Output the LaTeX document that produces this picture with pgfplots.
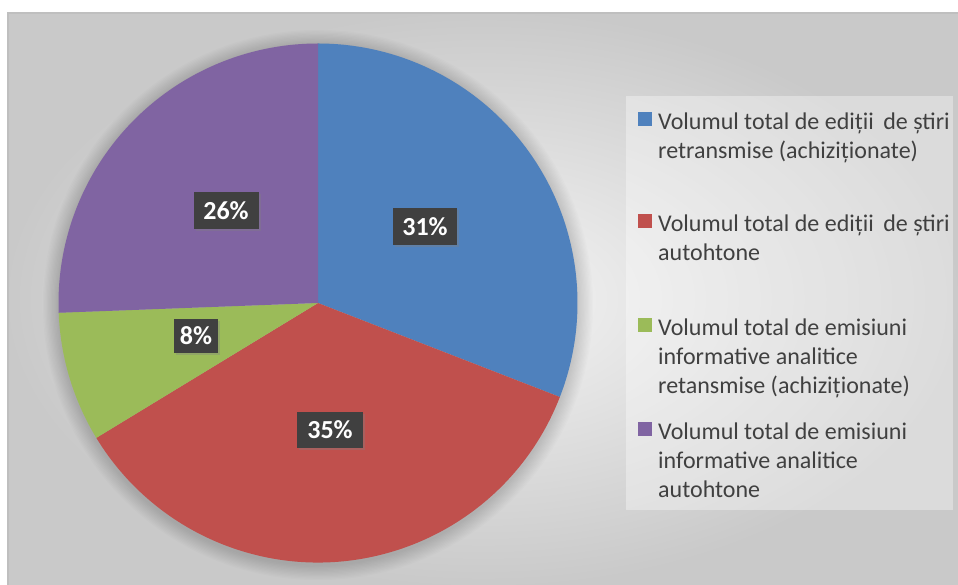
\documentclass[border=0pt]{standalone}
\usepackage{pgfplots}
\pgfplotsset{compat=1.18}
\usepackage{pgfplotstable}
\usepackage{fontspec}
\setmainfont{Carlito}
\usetikzlibrary{shadows}
\definecolor{cBlue}{HTML}{4F81BD}
\definecolor{cRed}{HTML}{C0504D}
\definecolor{cGreen}{HTML}{9BBB59}
\definecolor{cPurple}{HTML}{8064A2}
\definecolor{txt}{HTML}{404040}
\definecolor{lbl}{HTML}{404040}
\definecolor{frame}{HTML}{BFBFBF}

\pgfplotstableread{
share
30.9
35.4
8.1
25.6
}\piedata

\begin{document}
\begin{tikzpicture}
\pgfplotstablegetelem{0}{share}\of\piedata \pgfmathsetmacro\sA{\pgfplotsretval}
\pgfplotstablegetelem{1}{share}\of\piedata \pgfmathsetmacro\sB{\pgfplotsretval}
\pgfplotstablegetelem{2}{share}\of\piedata \pgfmathsetmacro\sC{\pgfplotsretval}
\pgfplotstablegetelem{3}{share}\of\piedata \pgfmathsetmacro\sD{\pgfplotsretval}
\pgfmathsetmacro\aZ{90}
\pgfmathsetmacro\aA{\aZ-3.6*\sA}
\pgfmathsetmacro\aB{\aA-3.6*\sB}
\pgfmathsetmacro\aC{\aB-3.6*\sC}
\pgfmathsetmacro\aD{\aC-3.6*\sD}
\begin{axis}[
  hide axis, scale only axis,
  at={(0pt,0pt)}, anchor=south west,
  width=958pt, height=585pt,
  xmin=0, xmax=958, ymin=0, ymax=585,
  clip=false,
]
% page and chart background
\fill[white] (axis cs:0,0) rectangle (axis cs:958,585);
\shade[inner color=gray!8, outer color=gray!42] (axis cs:8,0) rectangle (axis cs:958,572);
\draw[frame, line width=1.5pt] (axis cs:8,0) -- (axis cs:8,572) -- (axis cs:958,572);
% soft shadow of the pie
\pgfplotsinvokeforeach{1,...,12}{
  \fill[black, opacity=0.012] (axis cs:318,280) circle[radius=259.5pt+#1*1.3pt];
}
% pie slices
\fill[cBlue]   (axis cs:318,282) -- ++(\aZ:259.5pt) arc[start angle=\aZ, end angle=\aA, radius=259.5pt] -- cycle;
\fill[cRed]    (axis cs:318,282) -- ++(\aA:259.5pt) arc[start angle=\aA, end angle=\aB, radius=259.5pt] -- cycle;
\fill[cGreen]  (axis cs:318,282) -- ++(\aB:259.5pt) arc[start angle=\aB, end angle=\aC, radius=259.5pt] -- cycle;
\fill[cPurple] (axis cs:318,282) -- ++(\aC:259.5pt) arc[start angle=\aC, end angle=\aD, radius=259.5pt] -- cycle;
% data labels
\tikzset{lab/.style={fill=lbl, text=white, font=\bfseries\fontsize{26}{30}\selectfont,
  inner sep=0pt, align=center, drop shadow={shadow xshift=2pt, shadow yshift=-2pt, opacity=0.35}}}
\node[lab, minimum width=64pt, minimum height=37pt] at (axis cs:425,358.5) {31\%};
\node[lab, minimum width=66pt, minimum height=36pt] at (axis cs:330,155) {35\%};
\node[lab, minimum width=44pt, minimum height=34pt] at (axis cs:196,249) {8\%};
\node[lab, minimum width=65pt, minimum height=37pt] at (axis cs:226,374) {26\%};
% legend
\fill[white, opacity=0.35] (axis cs:626,75) rectangle (axis cs:953,489);
\tikzset{lt/.style={anchor=base west, inner sep=0pt, text=txt, font=\fontsize{24}{29}\selectfont}}
\fill[cBlue]   (axis cs:638,458.5) rectangle (axis cs:652,472.5);
\fill[cRed]    (axis cs:638,356.5) rectangle (axis cs:652,370.5);
\fill[cGreen]  (axis cs:638,253)   rectangle (axis cs:652,267);
\fill[cPurple] (axis cs:638,149)   rectangle (axis cs:652,163);
\node[lt] at (axis cs:658,455)   {Volumul total de ediții\, de știri};
\node[lt] at (axis cs:658,426)   {retransmise (achiziționate)};
\node[lt] at (axis cs:658,353)   {Volumul total de ediții\, de știri};
\node[lt] at (axis cs:658,324)   {autohtone};
\node[lt] at (axis cs:658,249.5) {Volumul total de emisiuni};
\node[lt] at (axis cs:658,220.5) {informative analitice};
\node[lt] at (axis cs:658,191.5) {retansmise (achiziționate)};
\node[lt] at (axis cs:658,145.5) {Volumul total de emisiuni};
\node[lt] at (axis cs:658,116.5) {informative analitice};
\node[lt] at (axis cs:658,87.5)  {autohtone};
\end{axis}
\pgfresetboundingbox
\path[use as bounding box] (0pt,0pt) rectangle (958pt,585pt);
\end{tikzpicture}
\end{document}
